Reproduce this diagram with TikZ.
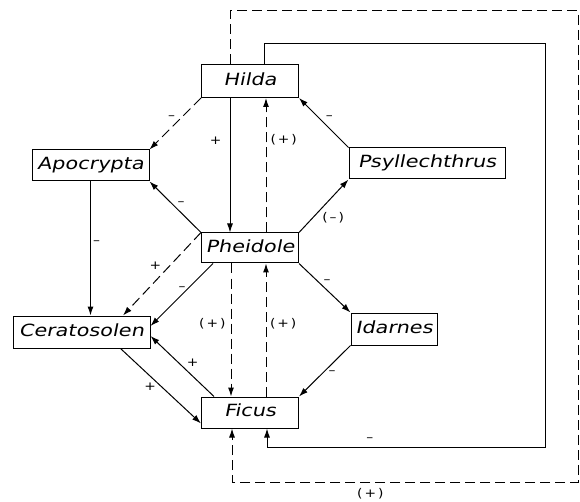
\documentclass[tikz,border=0pt]{standalone}
\usepackage{fontspec}
\newfontfamily\taxonfont{DejaVu Sans}[FakeStretch=1.24,FakeSlant=0.2]
\newfontfamily\signfont{DejaVu Sans}[FakeStretch=1.15]
\usetikzlibrary{arrows.meta}

\begin{document}
\begin{tikzpicture}[x=1pt,y=-1pt,
  taxon/.style={draw,line width=1pt,inner xsep=2pt,inner ysep=0pt,minimum height=31pt,
    text height=12.5pt,text depth=3.8pt,font=\taxonfont\fontsize{16.8}{18}\selectfont},
  link/.style={line width=1pt,-{Latex[length=9pt,width=6pt]}},
  dlink/.style={link,dash pattern=on 10pt off 5pt},
  sgn/.style={inner sep=1pt,font=\signfont\fontsize{12}{13}\selectfont}]
\useasboundingbox (0,0) rectangle (580,502);
\node[taxon,minimum width=97pt,minimum height=33pt] (hilda) at (250,81) {Hilda};
\node[taxon,minimum width=117pt] (apo) at (90.5,165.5) {Apocrypta};
\node[taxon,minimum width=156pt] (psy) at (427,163.5) {Psyllechthrus};
\node[taxon,minimum width=97pt,minimum height=30pt] (phe) at (250,248) {Pheidole};
\node[taxon,minimum width=137pt,minimum height=32pt] (cer) at (81.5,332) {Ceratosolen};
\node[taxon,minimum width=86pt,minimum height=32pt] (ida) at (394,329) {Idarnes};
\node[taxon,minimum width=97pt] (fic) at (250,412.5) {Ficus};
\coordinate (sa) at (545,44);
\coordinate (sb) at (545,447);
\coordinate (da) at (578,11);
\coordinate (db) at (578,482);

\draw[dlink] (hilda.south west) -- node[sgn,pos=.38,left=5pt]{\textendash} (apo.north east);
\draw[link] ([xshift=-20pt]hilda.south) -- node[sgn,pos=.32,left=7pt]{+} ([xshift=-20pt]phe.north);
\draw[dlink] ([xshift=16pt]phe.north) -- node[sgn,pos=.69,right=3pt]{(\,+\,)} ([xshift=16pt]hilda.south);
\draw[link] (psy.north west) -- node[sgn,pos=.61,right=6pt]{\textendash} (hilda.south east);
\draw[link] (phe.north west) -- node[sgn,pos=.56,right=4pt]{\textendash} (apo.south east);
\draw[link] (phe.north east) -- node[sgn,pos=.28,right=8pt]{(\,\textendash\,)} (psy.south west);
\draw[link] (apo.south) -- node[sgn,pos=.46,right=1pt]{\textendash} (apo.south |- cer.north);
\draw[dlink] (phe.north west) -- node[sgn,pos=.4,left=7pt]{+} ([xshift=41.5pt]cer.north);
\draw[link] ([xshift=12pt]phe.south west) -- node[sgn,pos=.4,left=1pt]{\textendash} ([yshift=6pt]cer.east);
\draw[dlink] ([xshift=-19pt]phe.south) -- node[sgn,pos=.45,left=4pt]{(\,+\,)} ([xshift=-19pt]fic.north);
\draw[dlink] ([xshift=16pt]fic.north) -- node[sgn,pos=.55,right=2.5pt]{(\,+\,)} ([xshift=16pt]phe.south);
\draw[link] ([xshift=13pt]fic.north west) -- node[sgn,pos=.56,right=7pt]{+} ([yshift=-4pt]cer.east);
\draw[link] ([xshift=-30pt]cer.south east) -- node[sgn,pos=.51,left=4pt]{+} ([yshift=-11pt]fic.west);
\draw[link] (phe.south east) -- node[sgn,pos=.38,right=3.5pt]{\textendash} (ida.north west);
\draw[link] (ida.south west) -- node[sgn,pos=.54,right=4.5pt]{\textendash} (fic.north east);
\draw[link] ([xshift=14pt]hilda.north) |- (sa) -- (sb) -| node[sgn,pos=.315,above=4pt]{\textendash} ([xshift=17pt]fic.south);
\draw[dlink] ([xshift=-20pt]hilda.north) |- (da) -- (db) -| node[sgn,pos=.3,below=5pt]{(\,+\,)} ([xshift=-18pt]fic.south);
\end{tikzpicture}
\end{document}
